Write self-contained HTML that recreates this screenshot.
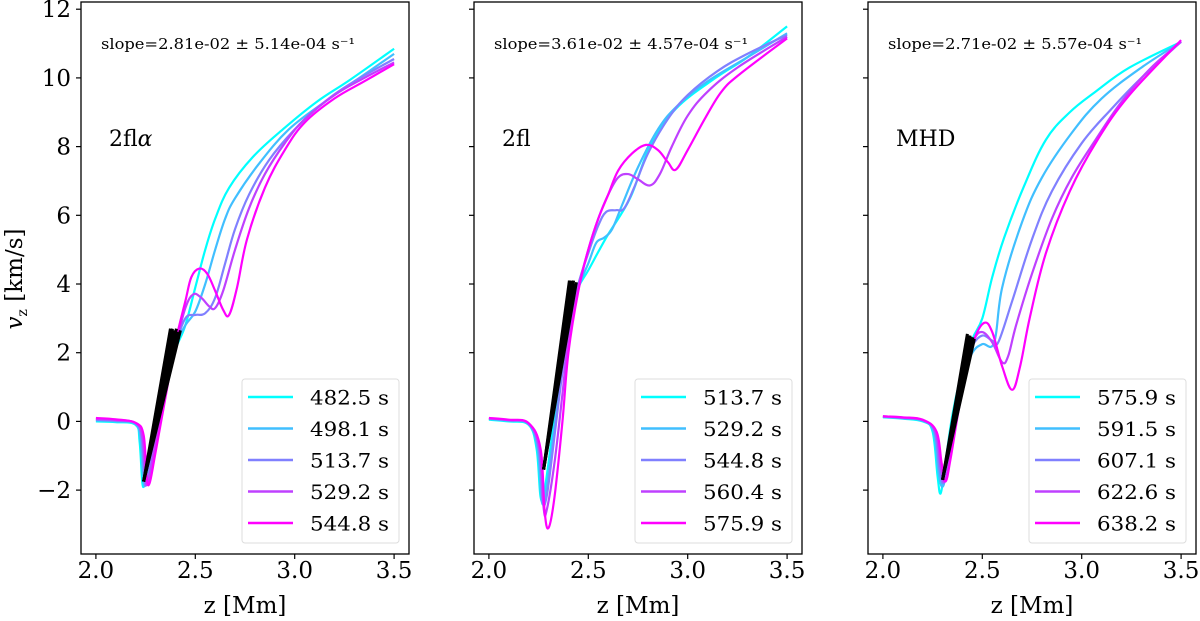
<!DOCTYPE html>
<html><head><meta charset="utf-8"><style>
html,body{margin:0;padding:0;background:#fff}
svg{display:block;font-family:"DejaVu Serif","Liberation Serif",serif}
</style></head><body>
<svg id="chart" width="1200" height="621" viewBox="0 0 1200 621" xmlns="http://www.w3.org/2000/svg"></svg>
<script>
// ---------- data ----------
const panelNames = ["2fl", "2fl", "MHD"];
const slopeLabels = ["slope=2.81e-02 \u00b1 5.14e-04 s\u207b\u00b9","slope=3.61e-02 \u00b1 4.57e-04 s\u207b\u00b9","slope=2.71e-02 \u00b1 5.57e-04 s\u207b\u00b9"];
const legendTimes = [["482.5 s","498.1 s","513.7 s","529.2 s","544.8 s"],["513.7 s","529.2 s","544.8 s","560.4 s","575.9 s"],["575.9 s","591.5 s","607.1 s","622.6 s","638.2 s"]];
const xTicks = [2.0, 2.5, 3.0, 3.5];
const xTickLabels = ["2.0","2.5","3.0","3.5"];
const yTicks = [-2, 0, 2, 4, 6, 8, 10, 12];
const yTickLabels = ["\u22122","0","2","4","6","8","10","12"];

// panel 1 (2fl alpha)
const p1s0x=[2.0,2.1,2.2,2.22,2.235,2.25,2.3,2.35,2.4,2.45,2.5,2.55,2.6,2.67,2.79,2.94,3.11,3.28,3.5];
const p1s0y=[0.0,-0.02,-0.1,-0.6,-1.85,-1.5,0.0,1.2,2.1,2.8,3.9,5.0,5.9,6.8,7.7,8.5,9.3,9.95,10.85];
const p1s1x=[2.0,2.1,2.2,2.225,2.24,2.255,2.3,2.35,2.4,2.45,2.5,2.55,2.6,2.65,2.7,2.82,2.97,3.15,3.3,3.5];
const p1s1y=[0.03,0.0,-0.08,-0.6,-1.8,-1.6,-0.2,1.1,2.2,2.8,3.2,4.0,5.0,5.9,6.5,7.5,8.5,9.3,9.9,10.7];
const p1s2x=[2.0,2.1,2.2,2.23,2.245,2.26,2.3,2.35,2.4,2.45,2.5,2.55,2.6,2.65,2.7,2.77,2.87,3.0,3.15,3.3,3.5];
const p1s2y=[0.05,0.02,-0.06,-0.5,-1.75,-1.65,-0.4,1.0,2.2,3.0,3.1,3.15,3.6,4.6,5.6,6.6,7.6,8.5,9.3,9.9,10.55];
const p1s3x=[2.0,2.1,2.2,2.235,2.25,2.265,2.3,2.35,2.4,2.45,2.49,2.53,2.57,2.6,2.64,2.7,2.77,2.85,2.95,3.05,3.2,3.35,3.5];
const p1s3y=[0.07,0.04,-0.05,-0.5,-1.7,-1.7,-0.6,0.9,2.2,3.3,3.7,3.6,3.35,3.3,3.8,5.0,6.2,7.2,8.1,8.8,9.5,10.0,10.45];
const p1s4x=[2.0,2.1,2.2,2.24,2.255,2.27,2.3,2.35,2.4,2.45,2.48,2.52,2.56,2.6,2.64,2.67,2.71,2.76,2.85,2.95,3.05,3.2,3.35,3.5];
const p1s4y=[0.1,0.06,-0.04,-0.4,-1.6,-1.8,-0.9,0.7,2.3,3.5,4.2,4.45,4.3,3.8,3.25,3.1,3.9,5.3,6.8,7.9,8.7,9.4,9.9,10.4];
// panel 2 (2fl)
const p2s0x=[2.0,2.1,2.2,2.24,2.26,2.28,2.32,2.36,2.4,2.45,2.5,2.59,2.71,2.81,2.94,3.14,3.3,3.5];
const p2s0y=[0.05,0.0,-0.1,-0.8,-2.2,-2.0,-0.3,1.5,3.0,3.9,4.4,5.35,6.5,8.0,9.1,10.0,10.6,11.5];
const p2s1x=[2.0,2.1,2.2,2.245,2.265,2.285,2.32,2.36,2.4,2.45,2.5,2.54,2.58,2.62,2.67,2.75,2.85,2.95,3.1,3.3,3.5];
const p2s1y=[0.07,0.02,-0.08,-0.8,-2.3,-2.1,-0.6,1.2,2.8,3.9,4.6,5.2,5.35,5.6,6.3,7.4,8.5,9.2,9.9,10.6,11.3];
const p2s2x=[2.0,2.1,2.2,2.25,2.27,2.29,2.32,2.36,2.4,2.45,2.5,2.55,2.59,2.64,2.68,2.73,2.8,2.9,3.0,3.15,3.3,3.5];
const p2s2y=[0.08,0.03,-0.07,-0.8,-2.3,-2.2,-0.9,1.0,2.7,4.0,4.9,5.7,6.1,6.15,6.2,6.8,7.8,8.8,9.5,10.2,10.7,11.25];
const p2s3x=[2.0,2.1,2.2,2.255,2.275,2.29,2.33,2.37,2.4,2.45,2.5,2.55,2.6,2.65,2.7,2.75,2.81,2.86,2.92,3.0,3.1,3.25,3.5];
const p2s3y=[0.09,0.04,-0.06,-0.8,-2.5,-2.6,-1.2,0.8,2.4,3.9,5.0,5.9,6.6,7.1,7.2,7.05,6.87,7.2,8.0,8.9,9.6,10.3,11.2];
const p2s4x=[2.0,2.1,2.2,2.26,2.28,2.3,2.33,2.37,2.4,2.45,2.5,2.55,2.6,2.65,2.72,2.79,2.85,2.9,2.94,3.0,3.09,3.17,3.26,3.5];
const p2s4y=[0.1,0.05,-0.05,-0.8,-2.6,-3.1,-2.2,0.0,2.0,3.8,5.0,5.9,6.6,7.3,7.8,8.05,7.9,7.55,7.33,7.9,8.85,9.6,10.1,11.15];
// panel 3 (MHD)
const p3s0x=[2.0,2.1,2.2,2.25,2.275,2.29,2.31,2.35,2.4,2.45,2.5,2.55,2.61,2.71,2.82,2.94,3.07,3.24,3.5];
const p3s0y=[0.12,0.08,0.0,-0.3,-1.6,-2.1,-1.4,0.2,1.5,2.4,3.0,4.2,5.35,6.85,8.2,9.0,9.6,10.3,11.05];
const p3s1x=[2.0,2.1,2.2,2.255,2.28,2.3,2.32,2.36,2.4,2.45,2.5,2.56,2.6,2.7,2.8,2.95,3.1,3.3,3.5];
const p3s1y=[0.13,0.09,0.02,-0.3,-1.5,-1.9,-1.4,0.1,1.3,2.0,2.25,2.3,3.9,5.8,7.1,8.4,9.4,10.3,11.05];
const p3s2x=[2.0,2.1,2.2,2.26,2.285,2.305,2.33,2.37,2.41,2.45,2.5,2.55,2.58,2.65,2.75,2.85,3.0,3.15,3.3,3.5];
const p3s2y=[0.14,0.1,0.03,-0.3,-1.4,-1.8,-1.2,0.3,1.5,2.2,2.5,2.35,2.3,3.5,5.3,6.7,8.1,9.1,10.0,11.05];
const p3s3x=[2.0,2.1,2.2,2.265,2.29,2.31,2.34,2.38,2.42,2.46,2.5,2.55,2.6,2.63,2.67,2.75,2.85,2.95,3.07,3.2,3.35,3.5];
const p3s3y=[0.15,0.11,0.04,-0.3,-1.3,-1.75,-1.0,0.5,1.7,2.4,2.6,2.3,1.72,1.9,2.8,4.3,5.9,7.1,8.2,9.3,10.3,11.05];
const p3s4x=[2.0,2.1,2.2,2.27,2.295,2.315,2.34,2.38,2.42,2.46,2.51,2.55,2.6,2.65,2.69,2.74,2.82,2.94,3.08,3.24,3.5];
const p3s4y=[0.15,0.12,0.05,-0.3,-1.2,-1.75,-1.1,0.3,1.5,2.4,2.87,2.6,1.6,0.92,1.6,3.05,4.9,6.7,8.2,9.5,11.1];

// linear fits (black wedge)
const fitStartX=[2.24,2.275,2.30];
const fitStartY=[-1.75,-1.4,-1.7];
const fitEndX=[[2.375,2.385,2.395,2.405,2.415,2.425],[2.405,2.412,2.419,2.426,2.433,2.44],[2.425,2.432,2.439,2.446,2.453,2.46]];
const fitEndY=[[2.7,2.7,2.65,2.7,2.6,2.65],[4.1,4.1,4.05,4.1,4.0,4.05],[2.55,2.5,2.5,2.45,2.45,2.4]];

const seriesX=[[p1s0x,p1s1x,p1s2x,p1s3x,p1s4x],[p2s0x,p2s1x,p2s2x,p2s3x,p2s4x],[p3s0x,p3s1x,p3s2x,p3s3x,p3s4x]];
const seriesY=[[p1s0y,p1s1y,p1s2y,p1s3y,p1s4y],[p2s0y,p2s1y,p2s2y,p2s3y,p2s4y],[p3s0y,p3s1y,p3s2y,p3s3y,p3s4y]];

// ---------- layout ----------
const colors=["#00ffff","#40bfff","#8080ff","#bf40ff","#ff00ff"];
const panelLeft=[81,474,868];
const panelW=328, axTop=2, axBottom=554;
const xMin=1.925, xMax=3.575, yMin=-3.86, yMax=12.21;
const NS="http://www.w3.org/2000/svg";
const svgEl=document.getElementById("chart");
function mk(tag,attrs,parent){const e=document.createElementNS(NS,tag);for(const k in attrs)e.setAttribute(k,attrs[k]);(parent||svgEl).appendChild(e);return e;}
function sx(p,v){return panelLeft[p]+(v-xMin)/(xMax-xMin)*panelW;}
function sy(v){return axBottom-(v-yMin)/(yMax-yMin)*(axBottom-axTop);}
function smooth(pts){
  let d="M"+pts[0][0].toFixed(2)+","+pts[0][1].toFixed(2);
  for(let i=0;i<pts.length-1;i++){
    const p0=pts[Math.max(i-1,0)],p1=pts[i],p2=pts[i+1],p3=pts[Math.min(i+2,pts.length-1)];
    const t=0.18;
    const c1=[p1[0]+(p2[0]-p0[0])*t,p1[1]+(p2[1]-p0[1])*t];
    const c2=[p2[0]-(p3[0]-p1[0])*t,p2[1]-(p3[1]-p1[1])*t];
    d+="C"+c1[0].toFixed(2)+","+c1[1].toFixed(2)+" "+c2[0].toFixed(2)+","+c2[1].toFixed(2)+" "+p2[0].toFixed(2)+","+p2[1].toFixed(2);
  }
  return d;
}

for(let p=0;p<3;p++){
  const g=mk("g",{});
  
  
  for(let s=0;s<5;s++){
    const pts=seriesX[p][s].map((x,i)=>[sx(p,x),sy(seriesY[p][s][i])]);
    const path=mk("path",{d:smooth(pts),fill:"none",stroke:colors[s],"stroke-width":2.2,"stroke-linejoin":"round"},g);
    
    
  }
  for(let k=0;k<fitEndX[p].length;k++){
    const ln=mk("line",{x1:sx(p,fitStartX[p]),y1:sy(fitStartY[p]),x2:sx(p,fitEndX[p][k]),y2:sy(fitEndY[p][k]),stroke:"#000","stroke-width":3},g);
    
    
  }
  const fr=mk("rect",{x:panelLeft[p],y:axTop,width:panelW,height:axBottom-axTop,fill:"none",stroke:"#000","stroke-width":1.3},g);
  
  
  xTicks.forEach((v,i)=>{
    const X=sx(p,v);
    mk("line",{x1:X,y1:axBottom,x2:X,y2:axBottom+5,stroke:"#000","stroke-width":1.2},g);
    const t=mk("text",{x:X,y:578,"text-anchor":"middle","font-size":23},g);
    t.textContent=xTickLabels[i];
    
    
  });
  const xl=mk("text",{x:panelLeft[p]+panelW/2,y:613,"text-anchor":"middle","font-size":23},g);
  xl.textContent="z [Mm]";
  
  
  yTicks.forEach((v,i)=>{
    const Y=sy(v);
    mk("line",{x1:panelLeft[p]-5,y1:Y,x2:panelLeft[p],y2:Y,stroke:"#000","stroke-width":1.2},g);
    if(p===0){
      const t=mk("text",{x:71,y:Y+8,"text-anchor":"end","font-size":23},g);
      t.textContent=yTickLabels[i];
      
      
    }
  });
  const st=mk("text",{x:panelLeft[p]+20,y:49,"font-size":15,textLength:254,lengthAdjust:"spacingAndGlyphs"},g);
  st.textContent=slopeLabels[p];
  
  
  const pl=mk("text",{x:panelLeft[p]+28,y:146,"font-size":22},g);
  pl.textContent=panelNames[p];
  if(p===0){const a=mk("tspan",{"font-style":"italic"},pl); a.textContent="\u03b1";}
  
  
  const lg=mk("g",{},g);
  
  
  const lx=panelLeft[p]+161, ly=379;
  mk("rect",{x:lx,y:ly,width:157,height:164,rx:3,fill:"#fff","fill-opacity":0.8,stroke:"#ddd","stroke-width":1},lg);
  for(let s=0;s<5;s++){
    const yy=397+s*31.5;
    const e=mk("g",{},lg);
    
    
    mk("line",{x1:lx+6,y1:yy,x2:lx+51,y2:yy,stroke:colors[s],"stroke-width":2.4},e);
    const t=mk("text",{x:lx+68,y:yy+7.5,"font-size":20,textLength:79,lengthAdjust:"spacingAndGlyphs"},e);
    t.textContent=legendTimes[p][s];
  }
}
const yl=mk("text",{transform:"translate(22,279) rotate(-90)","text-anchor":"middle","font-size":23});


const vSpan=mk("tspan",{"font-style":"italic"},yl); vSpan.textContent="v";
const zSpan=mk("tspan",{"font-size":14,dy:5},yl); zSpan.textContent="z";
const rSpan=mk("tspan",{dy:-5},yl); rSpan.textContent=" [km/s]";
</script>
</body></html>
